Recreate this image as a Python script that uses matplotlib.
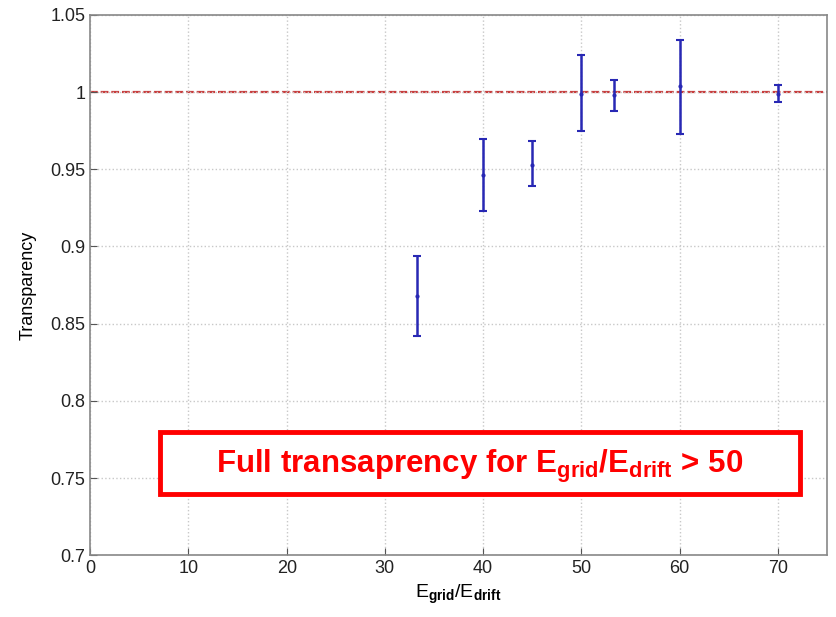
import numpy as np
import matplotlib.pyplot as plt
from matplotlib.patches import Rectangle

plt.rcParams['font.family'] = ['Liberation Sans', 'DejaVu Sans']
plt.rcParams['mathtext.fontset'] = 'custom'
plt.rcParams['mathtext.rm'] = 'Liberation Sans'
plt.rcParams['mathtext.it'] = 'Liberation Sans'
plt.rcParams['mathtext.bf'] = 'Liberation Sans:bold'

# field ratio and measured transparency
ratio = [33.3, 40, 45, 50, 53.3, 60, 70]
transp = [0.868, 0.946, 0.953, 0.999, 0.998, 1.004, 0.999]
err_low = [0.026, 0.023, 0.014, 0.024, 0.010, 0.031, 0.0055]
err_high = [0.026, 0.0235, 0.015, 0.025, 0.010, 0.030, 0.0055]

fig = plt.figure(figsize=(8.36, 6.17), dpi=100)
ax = fig.add_axes([0.108, 0.1, 0.881, 0.876])

ax.axhline(1.0, color='#c83c3c', ls='--', lw=1.6, dashes=(3.5, 1.3), zorder=1)
ax.errorbar(ratio, transp, yerr=[err_low, err_high], fmt='.', color='#2828b4',
            ms=4, elinewidth=1.8, capsize=3, capthick=1.5, zorder=3)

ax.set_xlim(0, 75)
ax.set_ylim(0.7, 1.05)
ax.set_xticks(np.arange(0, 71, 10))
ax.set_yticks([0.7, 0.75, 0.8, 0.85, 0.9, 0.95, 1.0, 1.05])
ax.set_yticklabels(['0.7', '0.75', '0.8', '0.85', '0.9', '0.95', '1', '1.05'])
ax.grid(True, color='#c8c8c8', ls=':', lw=1)
ax.tick_params(labelsize=13, direction='in', length=5, color='#555555',
               labelcolor='#222222')
for s in ax.spines.values():
    s.set_color('#888888')
    s.set_linewidth(1.2)

ax.set_ylabel('Transparency', fontsize=13, labelpad=10)
ax.set_xlabel(r'E$_{\mathbf{grid}}$/E$_{\mathbf{drift}}$', fontsize=14, labelpad=4)

# annotation box
fig.patches.append(Rectangle((160 / 836, 1 - 494 / 617), 640 / 836, 62 / 617,
                             transform=fig.transFigure, fill=True, facecolor='white',
                             edgecolor='#ff0000', lw=3.5, zorder=5))
fig.text(480 / 836, 1 - 466 / 617,
         r'Full transaprency for E$_{\mathbf{grid}}$/E$_{\mathbf{drift}}$ > 50',
         color='#ff0000', fontsize=22.5, fontweight='bold', ha='center', va='center',
         zorder=6)

fig.savefig('out.png', dpi=100)
